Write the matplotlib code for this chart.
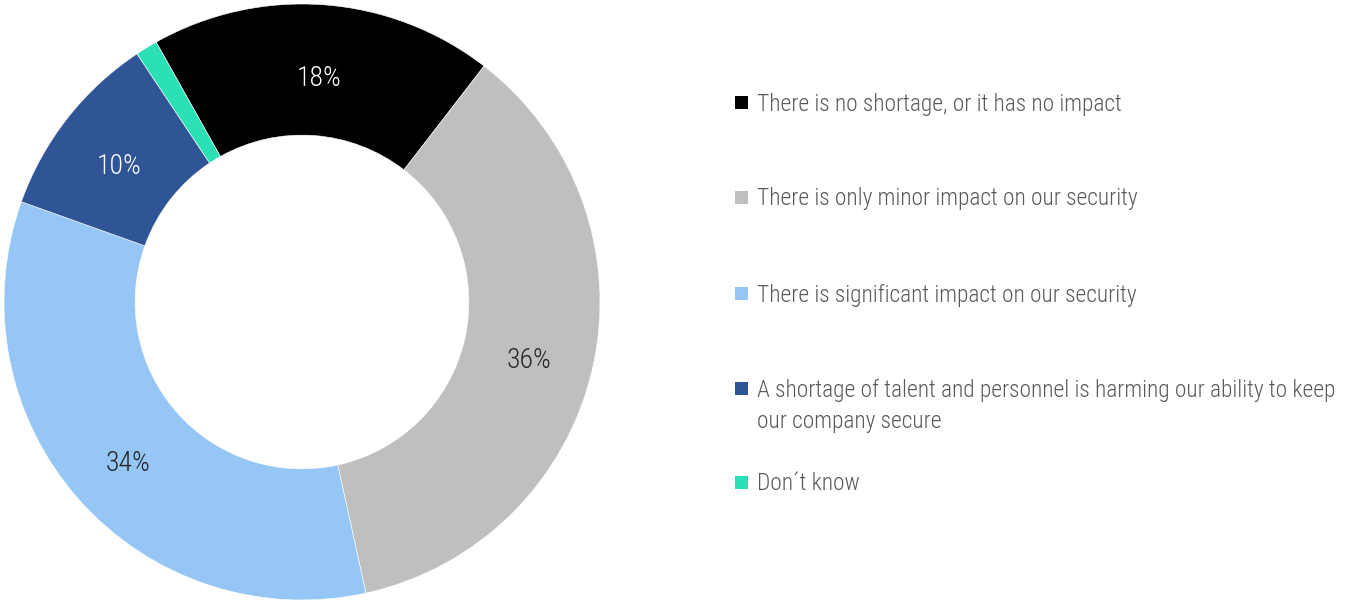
import matplotlib
matplotlib.use("Agg")
import matplotlib.pyplot as plt
from matplotlib.patches import Rectangle
from matplotlib import font_manager
from matplotlib.transforms import offset_copy

categories = [
    "There is no shortage, or it has no impact",
    "There is only minor impact on our security",
    "There is significant impact on our security",
    "A shortage of talent and personnel is harming our ability to keep\nour company secure",
    "Don\u00b4t know",
]
values = [18.6, 36.1, 33.9, 10.2, 1.2]
labels = ["18%", "36%", "34%", "10%", ""]
colors = ["#000000", "#bfbfbf", "#95c6f5", "#2f5597", "#2be0b5"]
label_colors = ["white", "#262626", "#262626", "white", "white"]

names = {f.name for f in font_manager.fontManager.ttflist}
fam = [f for f in ["Liberation Sans Narrow", "DejaVu Sans Condensed", "Roboto Condensed", "Open Sans"] if f in names] + ["DejaVu Sans"]
plt.rcParams["font.family"] = fam

W, H = 1354, 602
fig = plt.figure(figsize=(W / 100, H / 100), dpi=100)
cx, cy, R = 302, 302, 298
ax = fig.add_axes([(cx - R) / W, (H - cy - R) / H, 2 * R / W, 2 * R / H])

wedges, texts = ax.pie(
    values, colors=colors, startangle=90 + 29.3, counterclock=False,
    radius=1.0, labels=labels, labeldistance=0.78,
    wedgeprops=dict(width=0.44, edgecolor="white", linewidth=0.4),
    textprops=dict(fontsize=20, fontweight="light"),
)
for t, c in zip(texts, label_colors):
    t.set_color(c)
    t.set_ha("center"); t.set_va("center_baseline")
    t.set_transform(offset_copy(t.get_transform(), fig=fig, y=-5, units="dots"))
ax.set_xlim(-1, 1); ax.set_ylim(-1, 1)
ax.set_aspect("equal")
ax.axis("off")

ys = [102, 197, 293, 388, 482]
for y, cat, col in zip(ys, categories, colors):
    fig.patches.append(Rectangle((735 / W, 1 - (y + 6.5) / H), 13 / W, 13 / H,
                                 transform=fig.transFigure, facecolor=col, edgecolor="none"))
    fig.text(757 / W, 1 - (y - 9.5) / H, cat, fontsize=16.8, color="#595959",
             fontweight="light", va="top", ha="left", linespacing=1.45)

fig.savefig("out.png", dpi=100)
